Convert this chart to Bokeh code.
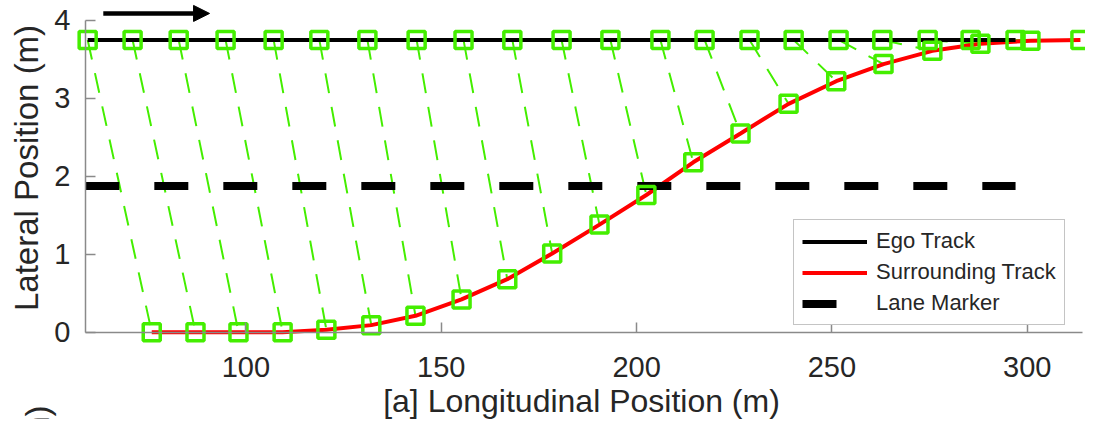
from bokeh.plotting import figure
from bokeh.models import (Range1d, FixedTicker, Legend, LegendItem, Label,
                          Arrow, NormalHead, LinearAxis)
from bokeh.embed import file_html
from bokeh.resources import INLINE

# ---- data ----
ego_x = [59.5, 71.0, 82.8, 94.8, 107.1, 118.8, 131.1, 143.7, 155.7, 168.2, 180.8,
         193.3, 206.1, 217.4, 228.9, 240.2, 251.7, 262.9, 274.5, 285.5, 297.0]
ego_y = [3.75] * 21

surr_x = [75.9, 87.1, 98.1, 109.4, 120.6, 132.1, 143.4, 155.2, 166.9, 178.4, 190.5,
          202.5, 214.5, 226.6, 238.9, 251.1, 263.2, 275.7, 288.0, 300.8, 313.6]
surr_y = [0.0, 0.0, 0.0, 0.0, 0.03, 0.09, 0.21, 0.42, 0.68, 1.01, 1.38,
          1.76, 2.18, 2.55, 2.93, 3.22, 3.44, 3.61, 3.70, 3.74, 3.75]

lane_x = [58.9, 297.0]
lane_y = [1.875, 1.875]

x_ticks = [100, 150, 200, 250, 300]
y_ticks = [0, 1, 2, 3, 4]
x_bounds = (58.9, 314.1)
y_bounds = (0, 4)

FONT = "Liberation Sans"
TXT = "#262626"
GREEN = "#44ee00"

p = figure(width=1085, height=419, output_backend="svg", toolbar_location=None,
           x_range=Range1d(37.19, 314.9), y_range=Range1d(-1.121, 4.256),
           min_border=0, x_axis_location=None, y_axis_location=None)
p.outline_line_color = None
p.background_fill_color = "white"
p.border_fill_color = "white"
p.xgrid.visible = False
p.ygrid.visible = False

# axes at fixed data locations
def style_axis(ax):
    ax.axis_line_color = "#8a8a8a"
    ax.axis_line_width = 1.5
    ax.major_tick_line_color = "#8a8a8a"
    ax.major_tick_line_width = 1.5
    ax.major_tick_in = 10
    ax.major_tick_out = 0
    ax.minor_tick_line_color = None
    ax.major_label_text_font = FONT
    ax.major_label_text_font_size = "29px"
    ax.major_label_text_color = TXT

xaxis = LinearAxis(fixed_location=y_bounds[0], bounds=x_bounds,
                   ticker=FixedTicker(ticks=x_ticks))
style_axis(xaxis)
xaxis.major_label_standoff = 25
p.add_layout(xaxis, "below")

yaxis = LinearAxis(fixed_location=x_bounds[0], bounds=y_bounds,
                   ticker=FixedTicker(ticks=y_ticks))
style_axis(yaxis)
yaxis.major_label_standoff = 15
p.add_layout(yaxis, "left")

# green dashed connectors
p.segment(x0=ego_x, y0=ego_y, x1=surr_x, y1=surr_y, line_color=GREEN,
          line_width=2, line_dash="20 14")

# tracks
r_surr = p.line(surr_x, surr_y, line_color="#ff0000", line_width=4)
r_ego = p.line(ego_x, ego_y, line_color="black", line_width=4)
r_lane = p.line(lane_x, lane_y, line_color="black", line_width=8,
                line_dash="34 35", line_cap="butt")

# markers
p.scatter(ego_x, ego_y, marker="square", size=17, fill_color=None,
          line_color=GREEN, line_width=3.5)
p.scatter(surr_x, surr_y, marker="square", size=17, fill_color=None,
          line_color=GREEN, line_width=3.5)

# direction arrow
p.add_layout(Arrow(x_start=63.5, y_start=4.09, x_end=90.7, y_end=4.09,
                   line_color="black", line_width=4.5,
                   end=NormalHead(size=16, fill_color="black", line_color="black")))

# axis labels
p.add_layout(Label(x=185.9, y=-0.885, text="[a] Longitudinal Position (m)",
                   text_font=FONT, text_font_size="32px", text_color=TXT,
                   text_align="center", text_baseline="alphabetic"))
p.add_layout(Label(x=43.8, y=2.107, text="Lateral Position (m)", angle=90,
                   angle_units="deg", text_font=FONT, text_font_size="33px",
                   text_color=TXT, text_align="center", text_baseline="alphabetic"))
# label of the subplot below (cut off by the page edge)
p.add_layout(Label(x=46.7, y=-0.94, text="Lateral Position (m)", angle=90,
                   angle_units="deg", text_font=FONT, text_font_size="33px",
                   text_color=TXT, text_align="right", text_baseline="alphabetic"))

legend = Legend(items=[LegendItem(label="Ego Track", renderers=[r_ego]),
                       LegendItem(label="Surrounding Track", renderers=[r_surr]),
                       LegendItem(label="Lane Marker", renderers=[r_lane])],
                location=(793, 94))
legend.label_text_font = FONT
legend.label_text_font_size = "22px"
legend.label_text_color = TXT
legend.label_height = 23
legend.glyph_height = 23
legend.glyph_width = 65
legend.label_standoff = 9
legend.spacing = 5
legend.padding = 8
legend.margin = 0
legend.border_line_color = "#8a8a8a"
legend.border_line_width = 1.5
legend.background_fill_alpha = 1.0
p.add_layout(legend, "center")

open("out.html", "w").write(file_html(p, INLINE))
